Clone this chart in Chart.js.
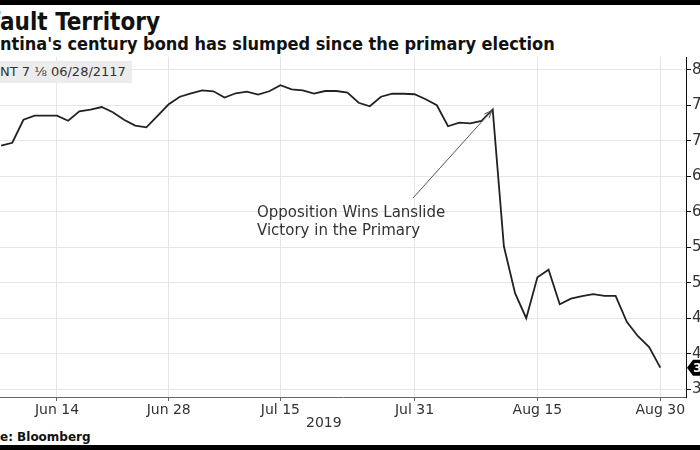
<!DOCTYPE html>
<html>
<head>
<meta charset="utf-8">
<script src="https://cdn.jsdelivr.net/npm/chart.js@4/dist/chart.umd.min.js"></script>
<style>
  html, body { margin: 0; padding: 0; background: #fff; }
  body { width: 700px; height: 450px; overflow: hidden; position: relative; font-family: "DejaVu Sans", sans-serif; }
  .bar { position: absolute; left: 0; width: 700px; background: #000; }
  .txt { position: absolute; left: 0; white-space: nowrap; }
  .cut { position: absolute; right: 100%; }
  #wrap { position: absolute; left: 0; top: 0; width: 740px; height: 450px; }
</style>
</head>
<body>
<div class="bar" style="top:0;height:5px"></div>
<div class="bar" style="top:445px;height:5px"></div>
<div class="txt" style="top:8px;font:bold 24px 'DejaVu Sans Condensed';color:#111"><span class="cut">Def</span>ault Territory</div>
<div class="txt" style="top:33px;font:bold 18px 'DejaVu Sans Condensed';color:#111"><span class="cut">Arge</span>ntina's century bond has slumped since the primary election</div>
<div class="txt" style="top:430px;font:bold 12px 'DejaVu Sans';color:#111"><span class="cut">Sourc</span>e: Bloomberg</div>
<div id="wrap"><canvas id="line-chart"></canvas></div>
<div class="txt" style="top:61px;height:22px;padding-right:6px;background:#ececec;font:13px 'DejaVu Sans';line-height:22px;color:#333"><span class="cut">ARGE</span>NT 7 ⅛ 06/28/2117</div>
<div class="txt" style="top:414px;left:306px;font:14px 'DejaVu Sans';color:#333">2019</div>
<script>
var dates = ['Jun 7', 'Jun 10', 'Jun 11', 'Jun 12', 'Jun 13', 'Jun 14', 'Jun 17', 'Jun 18', 'Jun 19', 'Jun 20',
             'Jun 21', 'Jun 24', 'Jun 25', 'Jun 26', 'Jun 27', 'Jun 28', 'Jul 1', 'Jul 2', 'Jul 3', 'Jul 5',
             'Jul 8', 'Jul 9', 'Jul 10', 'Jul 11', 'Jul 12', 'Jul 15', 'Jul 16', 'Jul 17', 'Jul 18', 'Jul 19',
             'Jul 22', 'Jul 23', 'Jul 24', 'Jul 25', 'Jul 26', 'Jul 29', 'Jul 30', 'Jul 31', 'Aug 1', 'Aug 2',
             'Aug 5', 'Aug 6', 'Aug 7', 'Aug 8', 'Aug 9', 'Aug 12', 'Aug 13', 'Aug 14', 'Aug 15', 'Aug 16',
             'Aug 19', 'Aug 20', 'Aug 21', 'Aug 22', 'Aug 23', 'Aug 26', 'Aug 27', 'Aug 28', 'Aug 29', 'Aug 30'];
var prices = [69.30, 69.72, 72.96, 73.55, 73.55, 73.55, 72.82, 74.15, 74.37, 74.75,
              74.01, 72.96, 72.14, 71.90, 73.52, 75.14, 76.20, 76.69, 77.11, 76.97,
              76.08, 76.69, 76.93, 76.51, 76.97, 77.82, 77.25, 77.11, 76.65, 77.01,
              77.01, 76.79, 75.35, 74.86, 76.20, 76.65, 76.62, 76.55, 75.85, 75.00,
              72.04, 72.56, 72.46, 72.79, 74.39, 55.14, 48.52, 45.00, 50.77, 51.83,
              46.97, 47.75, 48.10, 48.38, 48.14, 48.14, 44.48, 42.46, 40.92, 38.03];
var xTickLabels = ['Jun 14', 'Jun 28', 'Jul 15', 'Jul 31', 'Aug 15', 'Aug 30'];
var yTicks = [35, 37.5, 40, 42.5, 45, 47.5, 50, 52.5, 55, 57.5, 60, 62.5, 65, 67.5, 70, 72.5, 75, 77.5, 80];
var noteDate = 'Aug 9';
var noteLines = ['Opposition Wins Lanslide', 'Victory in the Primary'];

var points = prices.map(function(p, i) { return {x: i, y: p}; });
var isMajor = function(v) { return v % 5 === 0; };

// annotation text + arrow, and the last-price badge on the axis
var extras = {
    id: 'extras',
    afterDraw: function(chart) {
        var c = chart.ctx, xs = chart.scales.x, ys = chart.scales.y;
        var i = dates.indexOf(noteDate);
        var tx = xs.getPixelForValue(i) - 1, ty = ys.getPixelForValue(prices[i]) + 1;
        c.save();
        c.font = '15px "DejaVu Sans"';
        c.fillStyle = '#333';
        c.textBaseline = 'alphabetic';
        c.fillText(noteLines[0], 257, 217);
        c.fillText(noteLines[1], 257, 235);
        c.strokeStyle = '#555';
        c.lineWidth = 1;
        c.beginPath();
        c.moveTo(413, 198);
        c.lineTo(tx, ty);
        var a = Math.atan2(ty - 198, tx - 413);
        c.moveTo(tx - 8 * Math.cos(a - 0.4), ty - 8 * Math.sin(a - 0.4));
        c.lineTo(tx, ty);
        c.lineTo(tx - 8 * Math.cos(a + 0.4), ty - 8 * Math.sin(a + 0.4));
        c.stroke();

        var last = prices[prices.length - 1];
        var by = ys.getPixelForValue(last), bx = chart.chartArea.right + 1;
        c.fillStyle = '#000';
        c.beginPath();
        c.moveTo(bx, by);
        c.lineTo(bx + 6, by - 8);
        c.lineTo(bx + 50, by - 8);
        c.lineTo(bx + 50, by + 8);
        c.lineTo(bx + 6, by + 8);
        c.closePath();
        c.fill();
        c.fillStyle = '#fff';
        c.font = 'bold 13px "DejaVu Sans"';
        c.textBaseline = 'middle';
        c.fillText(last.toFixed(2), bx + 6, by + 1);
        c.restore();
    }
};

var lineChart = new Chart(document.getElementById('line-chart'), {
    type: 'line',
    data: {
        datasets: [{
            label: 'ARGENT 7 1/8 06/28/2117',
            data: points,
            borderColor: '#222',
            borderWidth: 1.8,
            pointRadius: 0,
            fill: false,
            lineTension: 0
        }]
    },
    options: {
        responsive: true,
        maintainAspectRatio: false,
        animation: false,
        layout: { padding: { top: 57, left: 0, right: 0, bottom: 0 } },
        plugins: { legend: { display: false }, tooltip: { enabled: false } },
        scales: {
            x: {
                type: 'linear',
                min: -0.1,
                max: 61.3,
                afterBuildTicks: function(s) {
                    s.ticks = xTickLabels.map(function(l) { return {value: dates.indexOf(l)}; });
                },
                afterFit: function(s) { s.height = 53; },
                ticks: {
                    autoSkip: false,
                    maxRotation: 0,
                    padding: 1,
                    color: '#333',
                    font: { family: 'DejaVu Sans', size: 14 },
                    callback: function(v) { return dates[v]; }
                },
                grid: { color: '#e6e6e6', tickColor: '#666', tickLength: 4 },
                border: { color: '#666', width: 1 }
            },
            y: {
                position: 'right',
                min: 33.9,
                max: 81.8,
                afterBuildTicks: function(s) {
                    s.ticks = yTicks.map(function(v) { return {value: v}; });
                },
                afterFit: function(s) { s.width = 54; },
                ticks: {
                    padding: 1,
                    color: '#333',
                    font: { family: 'DejaVu Sans', size: 15 },
                    callback: function(v) { return isMajor(v) ? String(v) : ''; }
                },
                grid: {
                    color: function(ctx) { return ctx.tick && isMajor(ctx.tick.value) ? '#e6e6e6' : 'rgba(0,0,0,0)'; },
                    tickColor: '#111',
                    tickLength: 5
                },
                border: { color: '#111', width: 1 }
            }
        }
    },
    plugins: [extras]
});
</script>
</body>
</html>
